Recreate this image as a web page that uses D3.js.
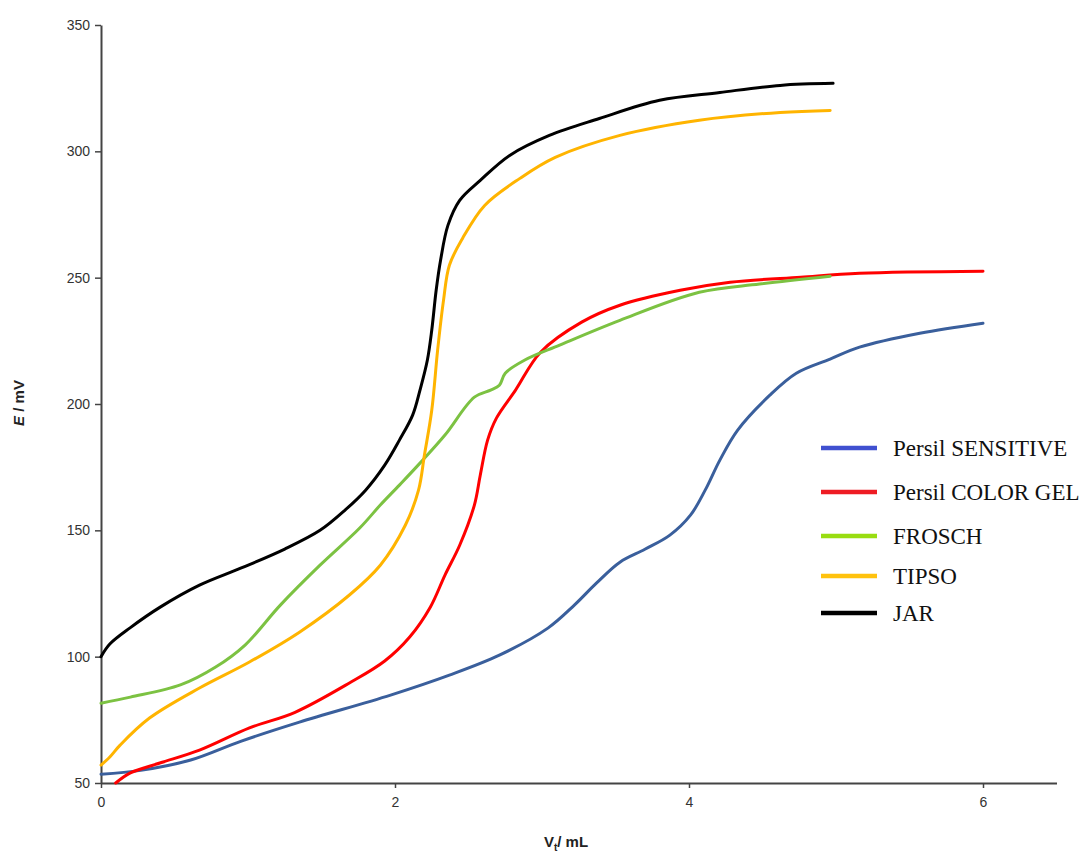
<!DOCTYPE html>
<html>
<head>
<meta charset="utf-8">
<script src="https://cdn.jsdelivr.net/npm/d3@7"></script>
<style>
  body { margin: 0; background: #fff; }
  svg { display: block; }
</style>
</head>
<body>
<div id="chart"></div>
<script>
// Series data (V_t in mL, E in mV)
const seriesNames = ["Persil SENSITIVE", "Persil COLOR GEL", "FROSCH", "TIPSO", "JAR"];

const sensitiveV = [0, 0.27, 0.61, 0.95, 1.35, 1.97, 2.37, 2.71, 3.04, 3.22, 3.37, 3.53, 3.7, 3.87, 4.01, 4.11, 4.21, 4.33, 4.55, 4.73, 4.96, 5.16, 5.57, 6.0];
const sensitiveE = [53.5, 55, 59.1, 66.5, 74.1, 84.8, 92.7, 100.6, 111.3, 120.4, 129.1, 137.4, 142.5, 148.1, 156, 165.9, 177.8, 189.6, 203.5, 212.2, 217.8, 222.5, 228, 232];

const colorGelV = [0.1, 0.2, 0.4, 0.67, 1.01, 1.32, 1.69, 1.93, 2.1, 2.24, 2.34, 2.44, 2.54, 2.58, 2.63, 2.69, 2.82, 2.99, 3.27, 3.53, 3.94, 4.28, 4.76, 5.16, 6.0];
const colorGelE = [50, 54, 57.9, 63, 71.8, 78, 89.6, 98.3, 107.8, 119.6, 132.3, 144.1, 160, 171.8, 185.7, 194.4, 205.5, 220.5, 232.4, 239.1, 245, 248.2, 250.2, 251.7, 252.5];

const froschV = [0, 0.2, 0.54, 0.78, 0.98, 1.22, 1.49, 1.76, 1.9, 2.03, 2.17, 2.34, 2.54, 2.65, 2.71, 2.75, 2.88, 3.12, 3.53, 4.07, 4.48, 4.96];
const froschE = [81.6, 84, 88.8, 95.9, 104.6, 120.4, 136.2, 150.9, 160, 167.9, 176.6, 187.7, 202.7, 205.5, 207.4, 212.2, 217.3, 223.3, 233.1, 244.2, 247.5, 250.6];

const tipsoV = [0, 0.06, 0.13, 0.33, 0.67, 1.01, 1.35, 1.69, 1.9, 2.07, 2.16, 2.2, 2.25, 2.29, 2.33, 2.37, 2.46, 2.61, 2.85, 3.09, 3.53, 4.07, 4.62, 4.96];
const tipsoE = [57.1, 60.3, 65, 75.7, 87.6, 97.9, 109.7, 124.4, 136.2, 152, 165.9, 179.7, 197.5, 221.3, 241, 254.9, 265.6, 278.6, 289.3, 297.6, 306.3, 312.3, 315.4, 316.2];

const jarV = [0, 0.06, 0.2, 0.4, 0.67, 0.95, 1.25, 1.49, 1.66, 1.8, 1.93, 2.03, 2.12, 2.17, 2.22, 2.25, 2.28, 2.31, 2.36, 2.44, 2.58, 2.78, 3.05, 3.39, 3.8, 4.21, 4.62, 4.98];
const jarE = [100, 105, 111.5, 119.5, 128.3, 135, 142.6, 150, 158, 165.9, 175.8, 185.7, 195.6, 205.5, 217.3, 229.2, 245, 256.9, 270.7, 280.6, 288.5, 298.4, 306.3, 313, 320.2, 323.3, 326.1, 326.9];

const xTicks = [0, 2, 4, 6];
const yTicks = [50, 100, 150, 200, 250, 300, 350];

// Colours: plotted line and legend swatch
const lineColors = ["#3a5f9c", "#ff0000", "#7cc242", "#ffb400", "#000000"];
const legendColors = ["#4050d0", "#ee1c24", "#99dd11", "#ffc20e", "#000000"];

const allV = [sensitiveV, colorGelV, froschV, tipsoV, jarV];
const allE = [sensitiveE, colorGelE, froschE, tipsoE, jarE];
const series = seriesNames.map((name, i) => ({
    name: name,
    points: allV[i].map((v, j) => ({ v: v, e: allE[i][j] }))
}));

const width = 1092;
const height = 857;

const svg = d3.select("#chart")
    .append("svg")
    .attr("width", width)
    .attr("height", height);

const x = d3.scaleLinear().domain([0, 6.5]).range([101, 1056.5]);
const y = d3.scaleLinear().domain([50, 350]).range([783, 25]);

// Axes
const xAxis = svg.append("g")
    .attr("transform", `translate(0,${y(50)})`)
    .call(d3.axisBottom(x).tickValues(xTicks).tickSize(5).tickSizeOuter(0).tickFormat(d3.format("d")));

const yAxis = svg.append("g")
    .attr("transform", `translate(${x(0)},0)`)
    .call(d3.axisLeft(y).tickValues(yTicks).tickSize(6).tickSizeOuter(0));

[xAxis, yAxis].forEach(a => {
    a.select(".domain").attr("stroke", "#444").attr("stroke-width", 2);
    a.selectAll(".tick line").attr("stroke", "#444").attr("stroke-width", 1.5);
    a.selectAll(".tick text")
        .style("font-family", "Arial, 'Liberation Sans', sans-serif")
        .style("font-size", "14px")
        .attr("fill", "#333");
});
xAxis.selectAll(".tick text").attr("dy", "1.15em");
yAxis.selectAll(".tick text").attr("x", -11);

// Axis titles
svg.append("text")
    .attr("transform", `translate(24,403) rotate(-90)`)
    .attr("text-anchor", "middle")
    .style("font-family", "Arial, 'Liberation Sans', sans-serif")
    .style("font-size", "15px")
    .style("font-weight", "bold")
    .attr("fill", "#222")
    .call(t => {
        t.append("tspan").style("font-style", "italic").text("E");
        t.append("tspan").text(" / mV");
    });

svg.append("text")
    .attr("x", 566)
    .attr("y", 847)
    .attr("text-anchor", "middle")
    .style("font-family", "Arial, 'Liberation Sans', sans-serif")
    .style("font-size", "15px")
    .style("font-weight", "bold")
    .attr("fill", "#222")
    .call(t => {
        t.append("tspan").text("V");
        t.append("tspan").attr("dy", 4).style("font-size", "10px").text("t");
        t.append("tspan").attr("dy", -4).text("/ mL");
    });

// Lines
const line = d3.line()
    .x(d => x(d.v))
    .y(d => y(d.e))
    .curve(d3.curveCatmullRom.alpha(0.5));

svg.append("g")
    .selectAll("path")
    .data(series)
    .enter()
    .append("path")
    .attr("d", d => line(d.points))
    .attr("fill", "none")
    .attr("stroke", (d, i) => lineColors[i])
    .attr("stroke-width", 3)
    .attr("stroke-linejoin", "round")
    .attr("stroke-linecap", "round");

// Legend
const legendY = [448, 492, 536, 576, 613];
const legend = svg.append("g");

legend.selectAll("line")
    .data(series)
    .enter()
    .append("line")
    .attr("x1", 821)
    .attr("x2", 877)
    .attr("y1", (d, i) => legendY[i])
    .attr("y2", (d, i) => legendY[i])
    .attr("stroke", (d, i) => legendColors[i])
    .attr("stroke-width", 4.5);

legend.selectAll("text")
    .data(series)
    .enter()
    .append("text")
    .attr("x", 893)
    .attr("y", (d, i) => legendY[i] + 8)
    .text(d => d.name)
    .style("font-family", "'Liberation Serif', 'Times New Roman', serif")
    .style("font-size", "23px")
    .attr("fill", "#111");
</script>
</body>
</html>
